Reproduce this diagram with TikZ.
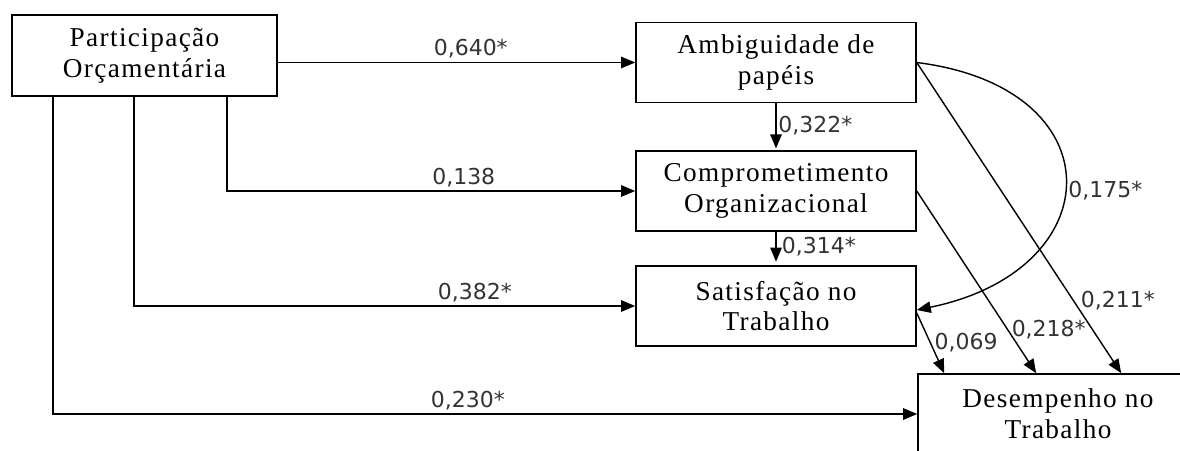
\documentclass[tikz,border=0pt]{standalone}
\usepackage{fontspec}
\setmainfont{Liberation Serif}
\newfontfamily\lblfont{DejaVu Sans}
\usetikzlibrary{arrows.meta}

\begin{document}
\begin{tikzpicture}[x=0.02cm, y=-0.02cm,
  box/.style={draw, line width=0.9pt, minimum width=5.6cm, minimum height=1.6cm, align=center,
    font=\addfontfeature{LetterSpace=5}\fontsize{15.5}{17.5}\selectfont},
  arr/.style={line width=0.8pt, -{Triangle[length=8pt, width=6.5pt]}},
  lbl/.style={font=\lblfont\fontsize{12.5}{14}\selectfont, text=black!80, inner sep=2pt}]
\clip (0,0) rectangle (1180,450);
\node[box, minimum width=5.3cm, minimum height=1.62cm] (part) at (144.5,55.5) {Participação\\Orçamentária};
\node[box] (amb) at (776,62.5) {Ambiguidade de\\papéis};
\node[box] (comp) at (776,191) {Comprometimento\\Organizacional};
\node[box] (sat) at (776,306) {Satisfação no\\Trabalho};
\node[box] (des) at (1058,414) {Desempenho no\\Trabalho};
\coordinate (d230) at (53,96);
\coordinate (d382) at (134,96);
\coordinate (d138) at (227,96);
\draw[arr] (part.east |- amb.west) -- (amb.west) node[lbl, above, pos=0.54] {0,640*};
\draw[arr] (d138) |- (comp.west) node[lbl, above, pos=0.79] {0,138};
\draw[arr] (d382) |- (sat.west) node[lbl, above, pos=0.84] {0,382*};
\draw[arr] (d230) |- (des.west) node[lbl, above, pos=0.74] {0,230*};
\draw[arr] (amb.south) -- ([yshift=1pt]comp.north) node[lbl, right, midway, inner sep=1pt] {0,322*};
\draw[arr] (comp.south) -- ([yshift=2pt]sat.north) node[lbl, right, midway, inner sep=3pt] {0,314*};
\draw[arr] ([yshift=-0.14cm]sat.east) -- ([xshift=0.54cm]des.north west) node[lbl, right, pos=0.5] {0,069};
\draw[arr] (comp.east) -- ([xshift=2.38cm]des.north west) node[lbl, right, pos=0.76] {0,218*};
\draw[arr] (amb.east) -- ([xshift=4.08cm]des.north west) node[lbl, right, pos=0.765, inner sep=4pt] {0,211*};
\draw[arr] (amb.east) .. controls +(200,25) and +(195,-40) .. ([yshift=-0.08cm]sat.east) node[lbl, right, pos=0.53] {0,175*};
\end{tikzpicture}
\end{document}
